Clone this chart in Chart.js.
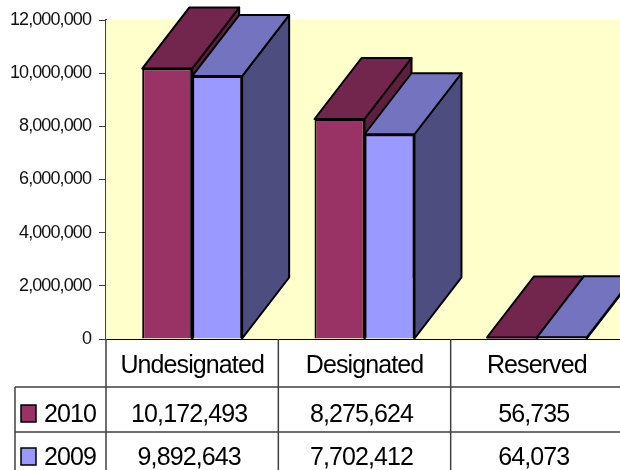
<!DOCTYPE html>
<html>
<head>
<meta charset="utf-8">
<title>Fund balance</title>
<script src="https://cdn.jsdelivr.net/npm/chart.js@4"></script>
<style>
    html, body { margin: 0; padding: 0; background: #fff; overflow: hidden; }
    #wrap { width: 620px; height: 470px; overflow: hidden; }
    canvas { display: block; }
</style>
</head>
<body>
<div id="wrap"><canvas id="fundChart" width="640" height="470"></canvas></div>
<script>
const categories = ['Undesignated', 'Designated', 'Reserved'];
const seriesNames = ['2010', '2009'];
const values2010 = [10172493, 8275624, 56735];
const values2009 = [9892643, 7702412, 64073];

const FONT = '"Liberation Sans", Arial, sans-serif';
const LINE = '#404040';
const DEPTH_X = 47;
const DEPTH_Y = 61;

// front, top and side shades for each series
const frontColors = ['#993366', '#9999ff'];
const topColors = ['#73264d', '#7373bf'];
const sideColors = ['#5c1f3e', '#4d4d80'];

function polygon(ctx, pts, fill) {
    ctx.beginPath();
    pts.forEach((p, i) => (i ? ctx.lineTo(p[0], p[1]) : ctx.moveTo(p[0], p[1])));
    ctx.closePath();
    ctx.fillStyle = fill;
    ctx.fill();
    ctx.lineWidth = 2;
    ctx.strokeStyle = '#000';
    ctx.stroke();
}

// Tall, tightly set labels: applies to every text call on this canvas
const textSetup = {
    id: 'textSetup',
    beforeDraw(chart) {
        chart.ctx.letterSpacing = '-0.9px';
    }
};

// Background panel and the fake 3D faces, drawn behind the real bars
const depthFaces = {
    id: 'depthFaces',
    beforeDatasetsDraw(chart) {
        const { ctx, chartArea } = chart;
        ctx.save();
        ctx.fillStyle = '#ffffcc';
        ctx.fillRect(chartArea.left, chartArea.top, chartArea.width, chartArea.height);
        ctx.lineJoin = 'round';
        categories.forEach((_, c) => {
            seriesNames.forEach((_, s) => {
                const bar = chart.getDatasetMeta(s).data[c];
                const l = bar.x - bar.width / 2;
                const r = bar.x + bar.width / 2;
                polygon(ctx, [[r, bar.base], [r + DEPTH_X, bar.base - DEPTH_Y],
                    [r + DEPTH_X, bar.y - DEPTH_Y], [r, bar.y]], sideColors[s]);
                polygon(ctx, [[l, bar.y], [l + DEPTH_X, bar.y - DEPTH_Y],
                    [r + DEPTH_X, bar.y - DEPTH_Y], [r, bar.y]], topColors[s]);
            });
        });
        ctx.restore();
    }
};

// Data table under the x axis with legend keys in its first column
const dataTable = {
    id: 'dataTable',
    afterDraw(chart) {
        const { ctx, chartArea } = chart;
        const xScale = chart.scales.x;
        const rowLines = [387, 432];
        const rowBaselines = [422, 465];
        const rows = [values2010, values2009];
        const keyTops = [405, 448];
        const step = xScale.getPixelForValue(1) - xScale.getPixelForValue(0);

        ctx.save();
        ctx.strokeStyle = LINE;
        ctx.lineWidth = 1.5;
        ctx.beginPath();
        rowLines.forEach(y => {
            ctx.moveTo(15, y);
            ctx.lineTo(chart.width, y);
        });
        ctx.moveTo(15, rowLines[0]);
        ctx.lineTo(15, 470);
        categories.forEach((_, c) => {
            const x = xScale.getPixelForValue(c) - step / 2;
            ctx.moveTo(x, chartArea.bottom);
            ctx.lineTo(x, 470);
        });
        ctx.stroke();

        ctx.font = '25px ' + FONT;
        ctx.fillStyle = '#000';
        ctx.textBaseline = 'alphabetic';
        rows.forEach((row, r) => {
            ctx.textAlign = 'center';
            row.forEach((v, c) => {
                ctx.fillText(v.toLocaleString('en-US'), xScale.getPixelForValue(c) - 3, rowBaselines[r]);
            });
            ctx.textAlign = 'left';
            ctx.fillText(seriesNames[r], 44, rowBaselines[r]);
            ctx.fillStyle = frontColors[r];
            ctx.fillRect(21, keyTops[r], 15, 17);
            ctx.strokeStyle = '#000';
            ctx.strokeRect(21, keyTops[r], 15, 17);
            ctx.fillStyle = '#000';
        });
        ctx.restore();
    }
};

new Chart(document.getElementById('fundChart'), {
    type: 'bar',
    data: {
        labels: categories,
        datasets: [
            { label: seriesNames[0], data: values2010, backgroundColor: frontColors[0] },
            { label: seriesNames[1], data: values2009, backgroundColor: frontColors[1] }
        ].map(ds => ({
            ...ds,
            borderColor: '#000',
            borderWidth: 2,
            categoryPercentage: 0.58,
            barPercentage: 1
        }))
    },
    options: {
        responsive: false,
        animation: false,
        layout: { padding: { top: 20, right: 17, left: 0, bottom: 0 } },
        plugins: {
            legend: { display: false },
            tooltip: { enabled: false }
        },
        scales: {
            x: {
                afterFit: s => { s.height = 131; },
                grid: { display: false, drawTicks: false },
                border: { color: '#000', width: 2 },
                ticks: { color: '#000', padding: 12, maxRotation: 0, font: { family: FONT, size: 25 } }
            },
            y: {
                min: 0,
                max: 12000000,
                afterFit: s => { s.width = 106; },
                grid: { drawOnChartArea: false, color: LINE, tickLength: 7 },
                border: { color: LINE, width: 2 },
                ticks: {
                    stepSize: 2000000,
                    color: '#111',
                    padding: 8,
                    font: { family: FONT, size: 18 },
                    callback: v => v.toLocaleString('en-US')
                }
            }
        }
    },
    plugins: [textSetup, depthFaces, dataTable]
});
</script>
</body>
</html>
